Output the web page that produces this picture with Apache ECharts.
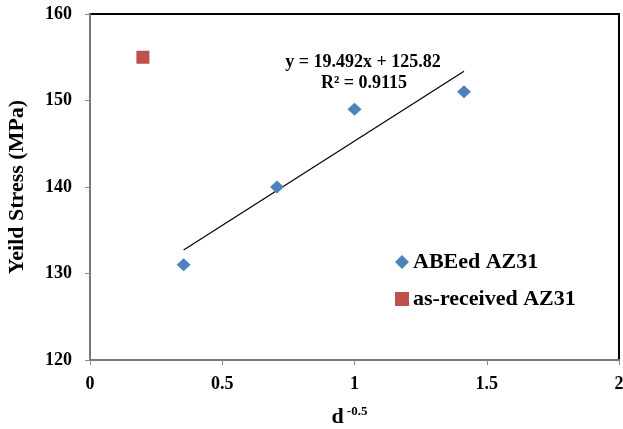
<!DOCTYPE html>
<html><head><meta charset="utf-8">
<script src="https://cdn.jsdelivr.net/npm/echarts@6/dist/echarts.min.js"></script>
<style>html,body{margin:0;padding:0;background:#fff}#c{width:623px;height:429px}</style>
</head><body><div id="c"></div>
<script>
const abeX = [0.354, 0.707, 1.0, 1.414];
const abeY = [131, 140, 149, 151];
const asRecX = [0.2];
const asRecY = [155];
const eqText = ['y = 19.492x + 125.82', 'R² = 0.9115'];
const seriesNames = ['ABEed AZ31', 'as-received AZ31'];

// least-squares fit from data
const n = abeX.length;
const mx = abeX.reduce((a,b)=>a+b,0)/n, my = abeY.reduce((a,b)=>a+b,0)/n;
let sxy=0,sxx=0; for(let i=0;i<n;i++){sxy+=(abeX[i]-mx)*(abeY[i]-my);sxx+=(abeX[i]-mx)**2;}
const slope=sxy/sxx, icpt=my-slope*mx;
const xmin=Math.min(...abeX), xmax=Math.max(...abeX);
const fitLine=[[xmin,icpt+slope*xmin],[xmax,icpt+slope*xmax]];

const font='Liberation Serif';
const chart=echarts.init(document.getElementById('c'));
chart.setOption({
  animation:false,
  grid:{left:90,right:4,top:14,bottom:69,outerBoundsMode:'none',containLabel:false,show:true,borderColor:'#000',borderWidth:2,backgroundColor:'#fff'},
  xAxis:{type:'value',min:0,max:2,interval:0.5,
    axisLine:{show:true,onZero:false,lineStyle:{color:'#777',width:2}},
    axisTick:{show:true,length:5,lineStyle:{color:'#888',width:1}},
    splitLine:{show:false},
    axisLabel:{fontFamily:font,fontWeight:'bold',fontSize:18,color:'#000',margin:15},
    name:'{b|d}{s|-0.5}',nameLocation:'middle',nameGap:45,
    nameTextStyle:{padding:[0,10,0,0],rich:{b:{fontFamily:font,fontWeight:'bold',fontSize:22,color:'#000'},s:{fontFamily:font,fontWeight:'bold',fontSize:13,color:'#000',verticalAlign:'top',padding:[0,0,11,3]}}}
  },
  yAxis:{type:'value',min:120,max:160,interval:10,
    axisLine:{show:true,onZero:false,lineStyle:{color:'#777',width:2}},
    axisTick:{show:true,length:5,lineStyle:{color:'#888',width:1}},
    splitLine:{show:false},
    axisLabel:{fontFamily:font,fontWeight:'bold',fontSize:18,color:'#000',margin:18},
    name:'Yeild Stress (MPa)',nameLocation:'middle',nameGap:62,
    nameTextStyle:{fontFamily:font,fontWeight:'bold',fontSize:22,color:'#000'}
  },
  legend:{orient:'vertical',left:395,top:251,itemGap:15,itemWidth:14,itemHeight:14,padding:0,
    textStyle:{fontFamily:font,fontWeight:'bold',fontSize:22,color:'#000',padding:[0,0,0,-1]},
    data:[{name:seriesNames[0],icon:'diamond'},{name:seriesNames[1],icon:'rect'}]},
  series:[
    {name:seriesNames[0],type:'scatter',symbol:'diamond',symbolSize:[14,13],itemStyle:{color:'#4F81BD',opacity:1},
     data:abeX.map((x,i)=>[x,abeY[i]]),z:5},
    {name:seriesNames[1],type:'scatter',symbol:'rect',symbolSize:13,itemStyle:{color:'#C0504D',opacity:1},
     data:asRecX.map((x,i)=>[x,asRecY[i]]),z:5},
    {name:'fit',type:'line',data:fitLine,symbol:'none',lineStyle:{color:'#000',width:1.2},silent:true,z:4}
  ],
  graphic:[
    {type:'text',x:363,y:62,style:{text:eqText[0],align:'center',verticalAlign:'middle',fontFamily:font,fontWeight:'bold',fontSize:18,fill:'#000'}},
    {type:'text',x:364,y:83,style:{text:eqText[1],align:'center',verticalAlign:'middle',fontFamily:font,fontWeight:'bold',fontSize:18,fill:'#000'}}
  ]
});
</script></body></html>
